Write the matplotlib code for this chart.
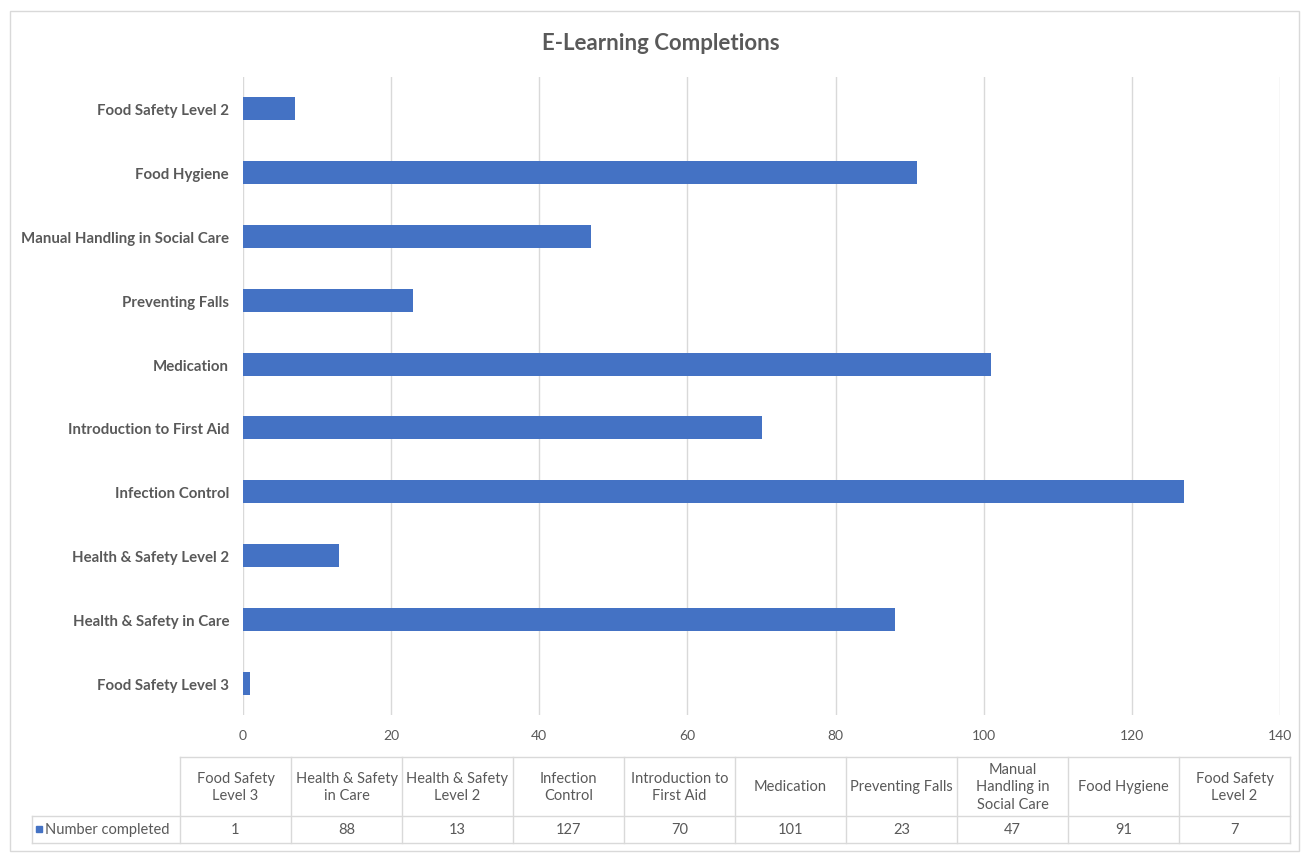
import matplotlib.pyplot as plt
from matplotlib.patches import Rectangle

# chart data (table order = bottom-to-top bar order)
courses = ["Food Safety Level 3", "Health & Safety in Care", "Health & Safety Level 2",
           "Infection Control", "Introduction to First Aid", "Medication",
           "Preventing Falls", "Manual Handling in Social Care", "Food Hygiene",
           "Food Safety Level 2"]
table_heads = ["Food Safety\nLevel 3", "Health & Safety\nin Care", "Health & Safety\nLevel 2",
               "Infection\nControl", "Introduction to\nFirst Aid", "Medication",
               "Preventing Falls", "Manual\nHandling in\nSocial Care", "Food Hygiene",
               "Food Safety\nLevel 2"]
completed = [1, 88, 13, 127, 70, 101, 23, 47, 91, 7]
series_name = "Number completed"
x_ticks = [0, 20, 40, 60, 80, 100, 120, 140]

W, H = 1301, 854
bar_color = "#4472C4"
grid_color = "#D9D9D9"
text_color = "#595959"
plt.rcParams['font.family'] = ['Lato', 'DejaVu Sans']

fig = plt.figure(figsize=(W / 100, H / 100), dpi=100)

# outer chart border
fig.add_artist(Rectangle((10 / W, 1 - 852 / H), 1289 / W, 840 / H, transform=fig.transFigure,
                         fill=False, edgecolor="#D9D9D9", linewidth=1))

fig.text(661 / W, 1 - 44 / H, "E-Learning Completions", ha="center", va="center",
         fontsize=16, fontweight="bold", color=text_color)

# main bar axes
ax = fig.add_axes([243 / W, 1 - 716 / H, (1280 - 243) / W, (716 - 78) / H])
y = range(len(courses))
ax.barh(y, completed, height=0.36, color=bar_color, zorder=3)
ax.set_xlim(0, 140)
ax.set_ylim(-0.5, len(courses) - 0.5)
ax.set_xticks(x_ticks)
ax.set_xticklabels([str(t) for t in x_ticks], color=text_color, fontsize=10)
ax.set_yticks(list(y))
ax.set_yticklabels(courses, color=text_color, fontsize=10.8, fontweight="bold")
ax.grid(axis="x", color=grid_color, linewidth=1, zorder=0)
for s in ax.spines.values():
    s.set_visible(False)
ax.tick_params(length=0, pad=10)
ax.tick_params(axis="x", pad=10)

# data table below the chart
tax = fig.add_axes([0, 0, 1, 1])
tax.set_xlim(0, W)
tax.set_ylim(H, 0)
tax.axis("off")
col_left, col_w = 180, 111.0
top, mid, bot = 758, 817, 844
line_kw = dict(color=grid_color, linewidth=1)
n = len(completed)
right = col_left + n * col_w
tax.plot([col_left, right], [top, top], **line_kw)
tax.plot([32, right], [mid, mid], **line_kw)
tax.plot([32, right], [bot, bot], **line_kw)
tax.plot([32, 32], [mid, bot], **line_kw)
for i in range(n + 1):
    xe = col_left + i * col_w
    tax.plot([xe, xe], [top, bot], **line_kw)
for i, (h, v) in enumerate(zip(table_heads, completed)):
    xc = col_left + (i + 0.5) * col_w
    tax.text(xc, (top + mid) / 2, h, ha="center", va="center", fontsize=10.5,
             color=text_color, linespacing=1.3)
    tax.text(xc, (mid + bot) / 2, str(v), ha="center", va="center", fontsize=10.5,
             color=text_color)
tax.add_patch(Rectangle((36, 827), 6, 6, color=bar_color))
tax.text(45, (mid + bot) / 2, series_name, ha="left", va="center", fontsize=10.5,
         color=text_color)

fig.savefig("out.png", dpi=100)
